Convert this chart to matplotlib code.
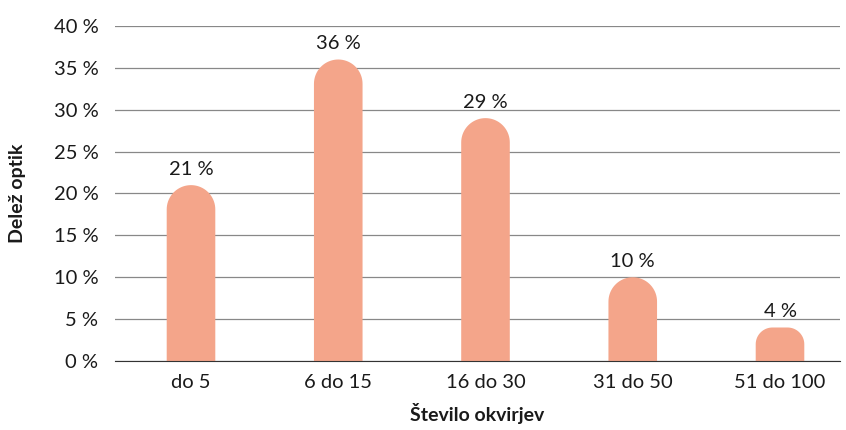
import numpy as np
import matplotlib
matplotlib.use("Agg")
import matplotlib.pyplot as plt
from matplotlib.path import Path
from matplotlib.patches import PathPatch

plt.rcParams['font.family'] = ['Lato', 'DejaVu Sans']

categories = ["do 5", "6 do 15", "16 do 30", "31 do 50", "51 do 100"]
values = [21, 36, 29, 10, 4]
bar_color = "#F4A58A"

fig = plt.figure(figsize=(8.46, 4.30), dpi=100)
W, H = 846, 430
ax = fig.add_axes([115 / W, (H - 361) / H, (840 - 115) / W, (361 - 26) / H])
# category spacing ~147 px, first centre at x=191 px
px_x = 147.25
ax.set_xlim((115 - 191) / px_x, (840 - 191) / px_x)
ax.set_ylim(0, 40)
px_y = (361 - 26) / 40.0
bw = 0.33


def rounded_bar(xc, h, w):
    half = w / 2
    r_px = min(half * px_x, h * px_y / 2)
    rx = r_px / px_x
    ry = r_px / px_y
    verts = [(xc - half, 0), (xc + half, 0), (xc + half, h - ry)]
    t = np.linspace(0, np.pi / 2, 20)
    cx = xc + half - rx
    for a in t:
        verts.append((cx + rx * np.cos(a), h - ry + ry * np.sin(a)))
    cx = xc - half + rx
    for a in t:
        verts.append((cx - rx * np.sin(a), h - ry + ry * np.cos(a)))
    verts.append((xc - half, 0))
    codes = [Path.MOVETO] + [Path.LINETO] * (len(verts) - 2) + [Path.CLOSEPOLY]
    return PathPatch(Path(verts, codes), facecolor=bar_color, edgecolor="none", zorder=3)


x = np.arange(len(categories))
for xi, v in zip(x, values):
    ax.add_patch(rounded_bar(xi, v, bw))
    ax.text(xi, v + 0.9, f"{v} %", ha="center", va="bottom", fontsize=14.5, color="#1a1a1a")

ax.set_yticks(np.arange(0, 41, 5))
ax.set_yticklabels([f"{t} %" for t in range(0, 41, 5)], fontsize=14.5, color="#1a1a1a")
ax.set_xticks(x)
ax.set_xticklabels(categories, fontsize=14.5, color="#1a1a1a")
ax.tick_params(axis="y", length=0, pad=12)
ax.tick_params(axis="x", length=0, pad=9)
ax.grid(axis="y", color="#888888", linewidth=0.9, zorder=0)
for s in ["top", "right", "left"]:
    ax.spines[s].set_visible(False)
ax.spines["bottom"].set_color("#333333")
ax.spines["bottom"].set_zorder(4)

ax.set_ylabel("Delež optik", fontsize=14, fontweight="bold", labelpad=20, color="#1a1a1a")
ax.set_xlabel("Število okvirjev", fontsize=14, fontweight="bold", labelpad=9, color="#1a1a1a")

fig.savefig("out.png", dpi=100)
